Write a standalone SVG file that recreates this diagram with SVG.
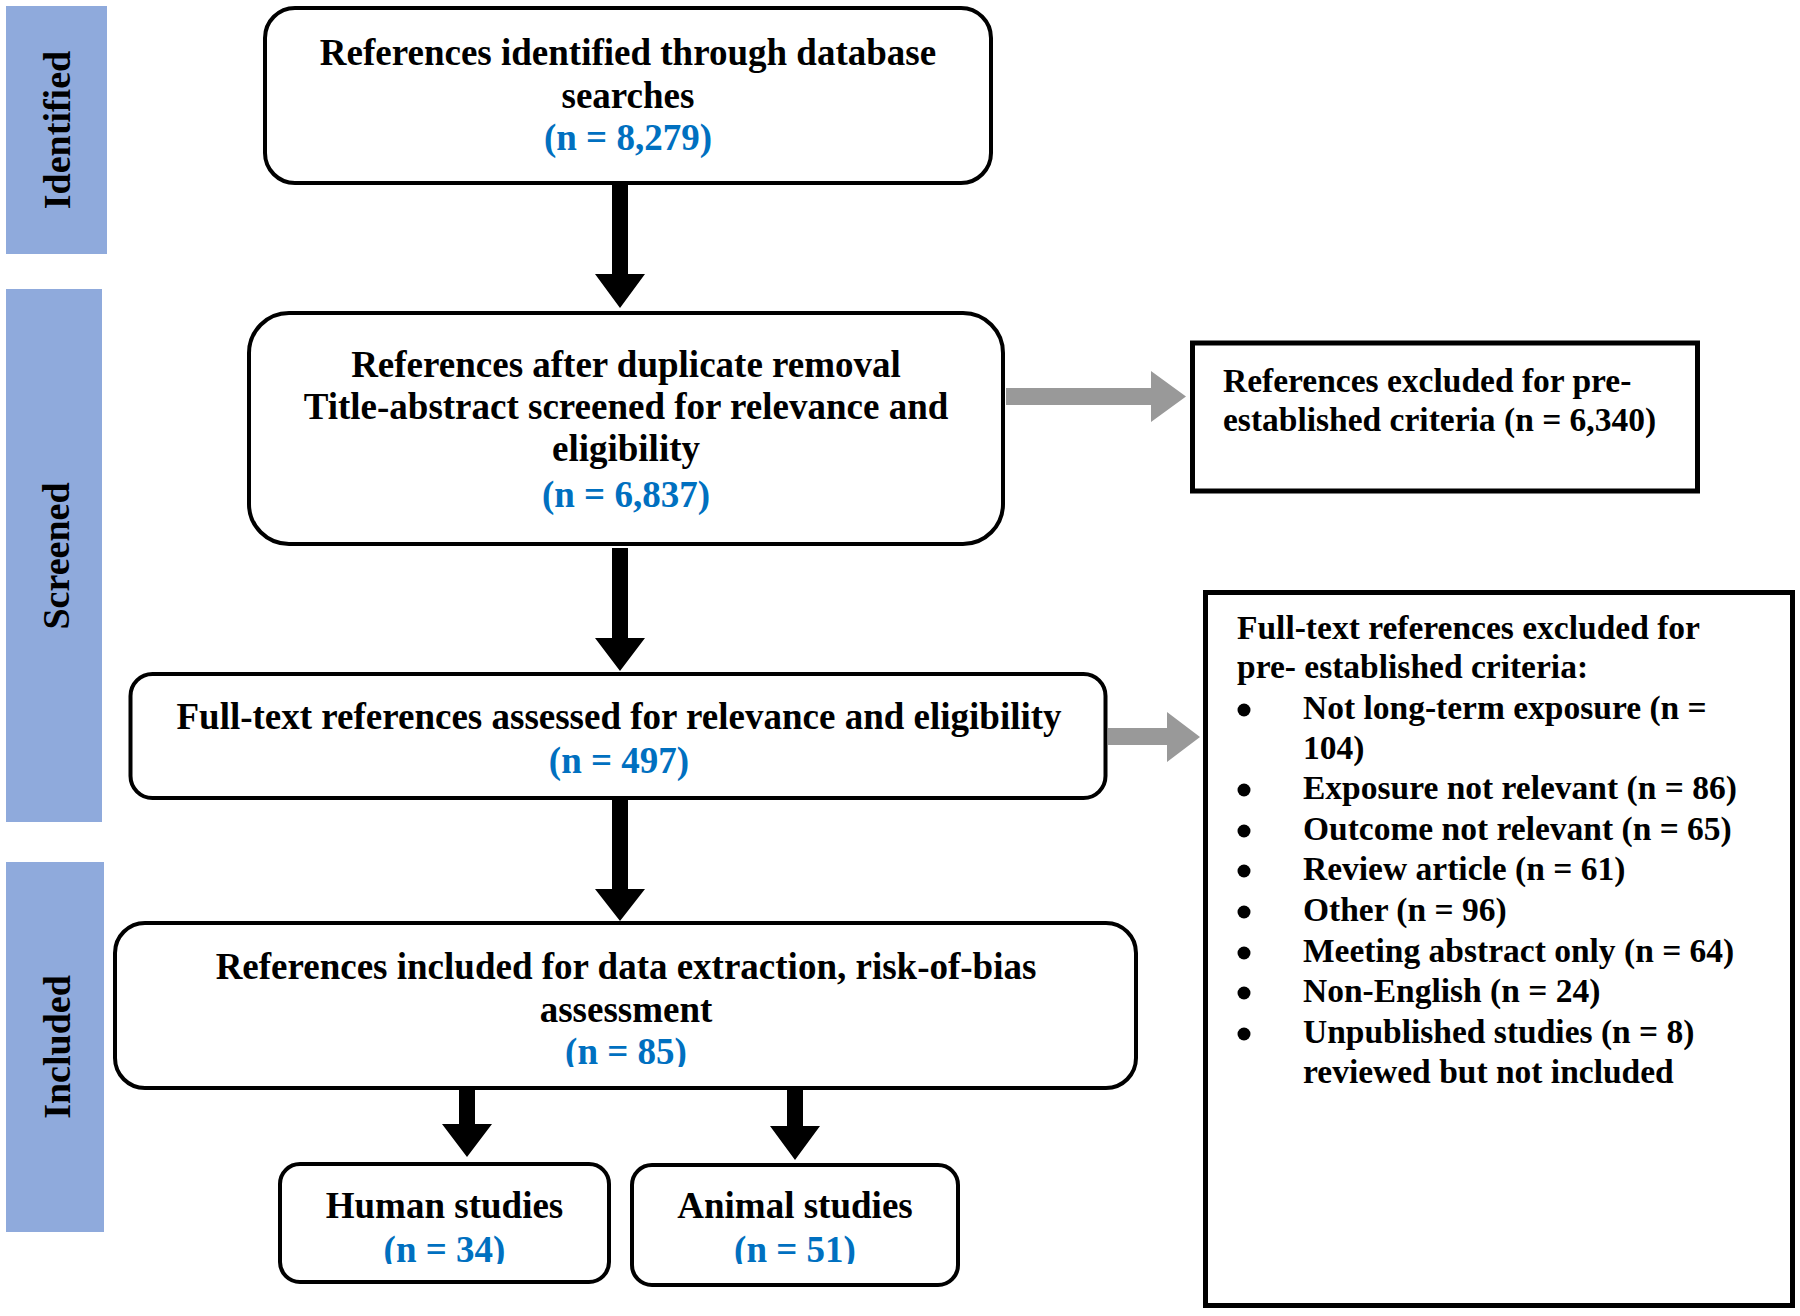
<svg xmlns="http://www.w3.org/2000/svg" width="1800" height="1316" viewBox="0 0 1800 1316">
<style>
.bg{fill:#fff}
.box{fill:#fff;stroke:#000;stroke-width:4}
.sq{fill:#fff;stroke:#000;stroke-width:5}
.side{fill:#8FAADC}
.t{font-family:"Liberation Serif","Times New Roman",serif;font-weight:bold;font-size:37px;text-anchor:middle;fill:#000}
.n{fill:#0070C0}
.s{font-size:33.5px;text-anchor:start}
.lab{font-size:38px}
.blk{fill:#000}
.gry{fill:#999}
</style>
<defs>
<clipPath id="c85"><rect x="0" y="0" width="1800" height="1067"/></clipPath>
<clipPath id="cbot"><rect x="0" y="0" width="1800" height="1264"/></clipPath>
</defs>
<rect class="bg" x="0" y="0" width="1800" height="1316"/>

<g id="stage-identified">
<rect class="side" x="6" y="6" width="101" height="248"/>
<text class="t lab" transform="translate(70,130) rotate(-90)" x="0" y="0">Identified</text>
</g>
<g id="stage-screened">
<rect class="side" x="6" y="289" width="96" height="533"/>
<text class="t lab" transform="translate(69,556) rotate(-90)" x="0" y="0">Screened</text>
</g>
<g id="stage-included">
<rect class="side" x="6" y="862" width="98" height="370"/>
<text class="t lab" transform="translate(70,1047) rotate(-90)" x="0" y="0">Included</text>
</g>

<g id="connectors">
<path class="blk" d="M612,184 H628 V274 H645 L620,308 L595,274 H612 Z"/>
<path class="blk" d="M612,548 H628 V638 H645 L620,671 L595,638 H612 Z"/>
<path class="blk" d="M612,800 H628 V889 H645 L620,921 L595,889 H612 Z"/>
<path class="blk" d="M459,1089 H475 V1124 H492 L467,1157 L442,1124 H459 Z"/>
<path class="blk" d="M787,1089 H803 V1126 H820 L795,1160 L770,1126 H787 Z"/>
<path class="gry" d="M1006,388 H1151 V371 L1186,396.5 L1151,422 V405 H1006 Z"/>
<path class="gry" d="M1108,728 H1167 V712 L1200,737 L1167,762 V745 H1108 Z"/>
</g>

<g id="identified">
<rect class="box" x="265" y="8" width="726" height="175" rx="30"/>
<text class="t" x="628" y="65">References identified through database</text>
<text class="t" x="628" y="108">searches</text>
<text class="t n" x="628" y="150">(n = 8,279)</text>
</g>

<g id="screened">
<rect class="box" x="249" y="313" width="754" height="231" rx="40"/>
<text class="t" x="626" y="377">References after duplicate removal</text>
<text class="t" x="626" y="419">Title-abstract screened for relevance and</text>
<text class="t" x="626" y="461">eligibility</text>
<text class="t n" x="626" y="507">(n = 6,837)</text>
</g>

<g id="excluded-screening">
<rect class="sq" x="1192.5" y="343" width="505" height="148"/>
<text class="t s" x="1223" y="392">References excluded for pre-</text>
<text class="t s" x="1223" y="431">established criteria (n = 6,340)</text>
</g>

<g id="fulltext">
<rect class="box" x="130.5" y="674" width="975" height="124" rx="22"/>
<text class="t" x="619" y="729">Full-text references assessed for relevance and eligibility</text>
<text class="t n" x="619" y="773">(n = 497)</text>
</g>

<g id="excluded-fulltext">
<rect class="sq" x="1205.5" y="592.5" width="587" height="713"/>
<text class="t s" x="1237" y="639">Full-text references excluded for</text>
<text class="t s" x="1237" y="678">pre- established criteria:</text>
<circle class="blk" cx="1244" cy="710" r="6.5"/>
<text class="t s" x="1303" y="719">Not long-term exposure (n =</text>
<text class="t s" x="1303" y="759">104)</text>
<circle class="blk" cx="1244" cy="790" r="6.5"/>
<text class="t s" x="1303" y="799">Exposure not relevant (n = 86)</text>
<circle class="blk" cx="1244" cy="831" r="6.5"/>
<text class="t s" x="1303" y="840">Outcome not relevant (n = 65)</text>
<circle class="blk" cx="1244" cy="871" r="6.5"/>
<text class="t s" x="1303" y="880">Review article (n = 61)</text>
<circle class="blk" cx="1244" cy="912" r="6.5"/>
<text class="t s" x="1303" y="921">Other (n = 96)</text>
<circle class="blk" cx="1244" cy="953" r="6.5"/>
<text class="t s" x="1303" y="962">Meeting abstract only (n = 64)</text>
<circle class="blk" cx="1244" cy="993" r="6.5"/>
<text class="t s" x="1303" y="1002">Non-English (n = 24)</text>
<circle class="blk" cx="1244" cy="1034" r="6.5"/>
<text class="t s" x="1303" y="1043">Unpublished studies (n = 8)</text>
<text class="t s" x="1303" y="1083">reviewed but not included</text>
</g>

<g id="included">
<rect class="box" x="115" y="923" width="1021" height="165" rx="30"/>
<text class="t" x="626" y="979">References included for data extraction, risk-of-bias</text>
<text class="t" x="626" y="1022">assessment</text>
<text class="t n" x="626" y="1064" clip-path="url(#c85)">(n = 85)</text>
</g>

<g id="human">
<rect class="box" x="280" y="1164" width="329" height="118" rx="20"/>
<text class="t" x="444.5" y="1218">Human studies</text>
<text class="t n" x="444.5" y="1262" clip-path="url(#cbot)">(n = 34)</text>
</g>

<g id="animal">
<rect class="box" x="632" y="1165" width="326" height="120" rx="20"/>
<text class="t" x="795" y="1218">Animal studies</text>
<text class="t n" x="795" y="1262" clip-path="url(#cbot)">(n = 51)</text>
</g>
</svg>
